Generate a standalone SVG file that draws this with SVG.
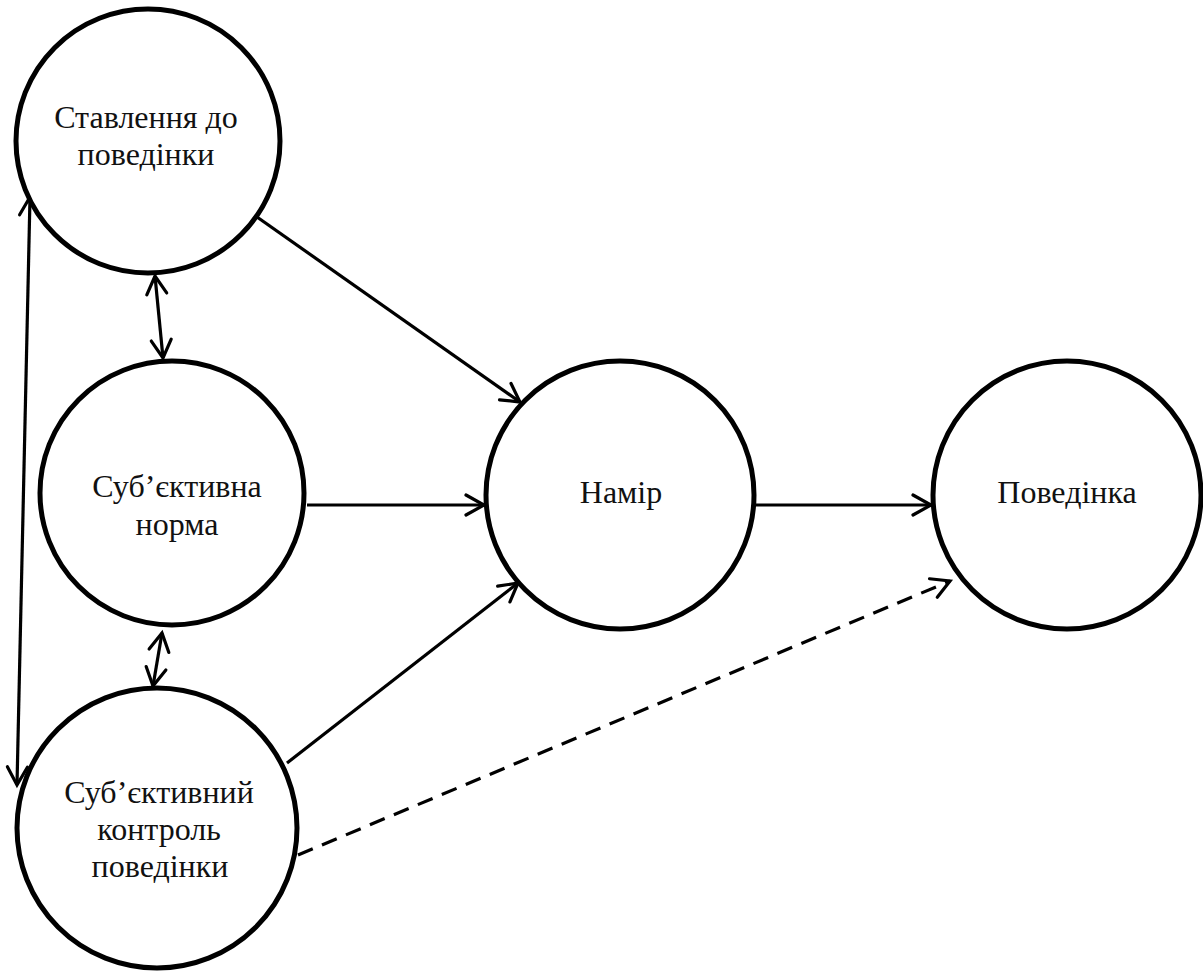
<svg xmlns="http://www.w3.org/2000/svg" width="1203" height="971" viewBox="0 0 1203 971">
<style>
.node{fill:#fff;stroke:#000;stroke-width:5}
.lbl{font-size:32px;fill:#111;text-anchor:middle}
.c{stroke:#000;stroke-width:3.2;fill:none}
.d{stroke-dasharray:16 10}
</style>
<defs>
<marker id="ah" markerUnits="userSpaceOnUse" viewBox="-22 -13 24 26" refX="0" refY="0" markerWidth="24" markerHeight="26" orient="auto-start-reverse" overflow="visible">
<path d="M-18,-10 L0,0 L-18,10" fill="none" stroke="#000" stroke-width="3.2" stroke-linecap="round" stroke-linejoin="miter"/>
</marker>
</defs>
<g id="connectors">
<line class="c" x1="30" y1="197" x2="17" y2="785" marker-start="url(#ah)" marker-end="url(#ah)"/>
<line class="c" x1="155" y1="276" x2="163" y2="358" marker-start="url(#ah)" marker-end="url(#ah)"/>
<line class="c" x1="162" y1="633" x2="153" y2="686" marker-start="url(#ah)" marker-end="url(#ah)"/>
<line class="c" x1="257" y1="217" x2="520" y2="402" marker-end="url(#ah)"/>
<line class="c" x1="307" y1="505" x2="484" y2="505" marker-end="url(#ah)"/>
<line class="c" x1="287" y1="763" x2="518" y2="583" marker-end="url(#ah)"/>
<line class="c" x1="755" y1="505" x2="931" y2="505" marker-end="url(#ah)"/>
<line class="c d" x1="298" y1="855" x2="950" y2="581" marker-end="url(#ah)"/>
</g>
<g font-family="'Liberation Serif', 'DejaVu Serif', 'Times New Roman', serif">
<g id="n1"><circle class="node" cx="148" cy="141" r="132"/><text class="lbl" x="146" y="128">Ставлення до</text><text class="lbl" x="146" y="165">поведінки</text></g>
<g id="n2"><circle class="node" cx="172" cy="493" r="132"/><text class="lbl" x="177" y="497">Суб’єктивна</text><text class="lbl" x="177" y="535">норма</text></g>
<g id="n3"><circle class="node" cx="157" cy="828" r="140"/><text class="lbl" x="159" y="803">Суб’єктивний</text><text class="lbl" x="159" y="840">контроль</text><text class="lbl" x="160" y="877">поведінки</text></g>
<g id="n4"><circle class="node" cx="620" cy="495" r="134"/><text class="lbl" x="621" y="503">Намір</text></g>
<g id="n5"><circle class="node" cx="1067" cy="495" r="134"/><text class="lbl" x="1067" y="503">Поведінка</text></g>
</g>
</svg>
